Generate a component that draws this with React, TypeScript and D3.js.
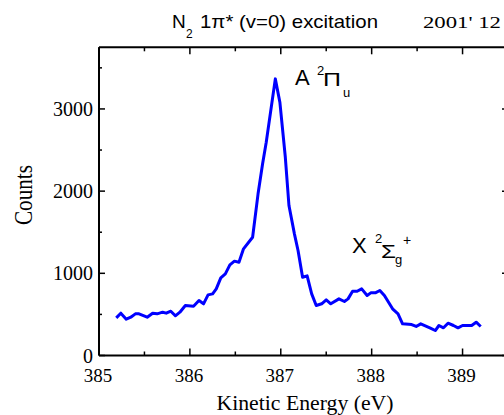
import React from "react";
import * as d3 from "d3";

const energy = [385.19, 385.24, 385.30, 385.35, 385.40, 385.44, 385.53, 385.59, 385.64, 385.70, 385.74, 385.79, 385.84, 385.89, 385.95, 386.04, 386.10, 386.15, 386.20, 386.25, 386.29, 386.34, 386.39, 386.44, 386.49, 386.54, 386.59, 386.69, 386.75, 386.80, 386.84, 386.94, 386.99, 387.05, 387.09, 387.15, 387.19, 387.24, 387.29, 387.34, 387.39, 387.45, 387.50, 387.55, 387.64, 387.70, 387.74, 387.79, 387.84, 387.89, 387.95, 387.99, 388.04, 388.09, 388.14, 388.23, 388.29, 388.34, 388.44, 388.49, 388.54, 388.64, 388.70, 388.74, 388.79, 388.84, 388.90, 388.95, 389.00, 389.10, 389.15, 389.20];
const counts = [458, 515, 442, 466, 507, 507, 466, 515, 507, 527, 515, 539, 483, 527, 608, 600, 669, 629, 738, 750, 811, 945, 994, 1103, 1148, 1135, 1298, 1439, 1967, 2332, 2595, 3366, 3082, 2412, 1825, 1480, 1277, 952, 969, 750, 608, 629, 677, 629, 689, 657, 689, 782, 782, 811, 730, 762, 762, 791, 730, 568, 507, 385, 377, 353, 385, 337, 304, 365, 337, 393, 365, 337, 365, 365, 405, 353];

const xMajor = [385, 386, 387, 388, 389];
const xMinor = [385.5, 386.5, 387.5, 388.5];
const yMajor = [0, 1000, 2000, 3000];
const yMinor = [500, 1500, 2500, 3500];

const W = 504, H = 415;
const L = 99, R = 508, T = 47.3, B = 355.5;

export default function App() {
  const x = d3.scaleLinear().domain([385, 389.5]).range([L, R]);
  const y = d3.scaleLinear().domain([0, 3750]).range([B, T]);
  const pts = energy.map((e, i) => [e, counts[i]] as [number, number]);
  const line = d3.line<[number, number]>().x(d => x(d[0])).y(d => y(d[1]));
  const serif = "'Liberation Serif', 'Times New Roman', serif";
  const sans = "'Liberation Sans', Arial, sans-serif";
  return (
    <svg width={W} height={H} style={{ position: "absolute", left: 0, top: 0, background: "#fff" }}>
      <rect x={0} y={0} width={W} height={H} fill="#fff" />
      <g stroke="#000" strokeWidth={2} fill="none">
        <line x1={L} x2={R} y1={T} y2={T} />
        <line x1={L} x2={R} y1={B} y2={B} />
        <line x1={L} x2={L} y1={T} y2={B} />
        <line x1={R} x2={R} y1={T} y2={B} />
      </g>
      <g stroke="#000" strokeWidth={1.5}>
        {xMajor.map(v => (
          <g key={"xm" + v}>
            <line x1={x(v)} x2={x(v)} y1={B} y2={B - 7} />
            <line x1={x(v)} x2={x(v)} y1={T} y2={T + 7} />
          </g>
        ))}
        {xMinor.map(v => (
          <g key={"xn" + v}>
            <line x1={x(v)} x2={x(v)} y1={B} y2={B - 4} />
            <line x1={x(v)} x2={x(v)} y1={T} y2={T + 4} />
          </g>
        ))}
        {yMajor.map(v => (
          <g key={"ym" + v}>
            <line x1={L} x2={L + 6} y1={y(v)} y2={y(v)} />
            <line x1={R} x2={R - 6} y1={y(v)} y2={y(v)} />
          </g>
        ))}
        {yMinor.map(v => (
          <g key={"yn" + v}>
            <line x1={L} x2={L + 3} y1={y(v)} y2={y(v)} />
            <line x1={R} x2={R - 3} y1={y(v)} y2={y(v)} />
          </g>
        ))}
      </g>
      <g fontFamily={serif} fontSize={20} fill="#000">
        {yMajor.map(v => (
          <text key={"yl" + v} x={93} y={y(v) + 7} textAnchor="end">{v}</text>
        ))}
        {xMajor.map(v => (
          <text key={"xl" + v} x={x(v) - 1} y={382} textAnchor="middle" fontSize={19}>{v}</text>
        ))}
      </g>
      <text x={305} y={410} textAnchor="middle" fontFamily={serif} fontSize={20} textLength={177} lengthAdjust="spacingAndGlyphs">Kinetic Energy (eV)</text>
      <text transform="translate(31.5,195) rotate(-90)" textAnchor="middle" fontFamily={serif} fontSize={25} textLength={60} lengthAdjust="spacingAndGlyphs">Counts</text>
      <g fontFamily={sans} fill="#000">
        <text x={172} y={28} fontSize={19}>N</text>
        <text x={186} y={38} fontSize={12}>2</text>
        <text x={200} y={28} fontSize={19} textLength={178} lengthAdjust="spacingAndGlyphs">1π* (v=0) excitation</text>
      </g>
      <text x={423} y={28} fontFamily={serif} fontSize={17} textLength={78} lengthAdjust="spacingAndGlyphs">2001' 12</text>
      <path d={line(pts) || ""} fill="none" stroke="#0000ff" strokeWidth={3} strokeLinejoin="round" />
      <g fontFamily={sans} fill="#000">
        <text x={295} y={85} fontSize={22}>A</text>
        <text x={317} y={75} fontSize={13}>2</text>
        <text x={323} y={86} fontSize={19} textLength={18} lengthAdjust="spacingAndGlyphs">Π</text>
        <text x={343} y={96.5} fontSize={13}>u</text>
        <text x={352} y={253} fontSize={22}>X</text>
        <text x={375} y={243} fontSize={13}>2</text>
        <text x={381} y={258} fontSize={19} textLength={15} lengthAdjust="spacingAndGlyphs">Σ</text>
        <text x={395} y={264} fontSize={13}>g</text>
        <text x={403} y={245} fontSize={14}>+</text>
      </g>
    </svg>
  );
}
